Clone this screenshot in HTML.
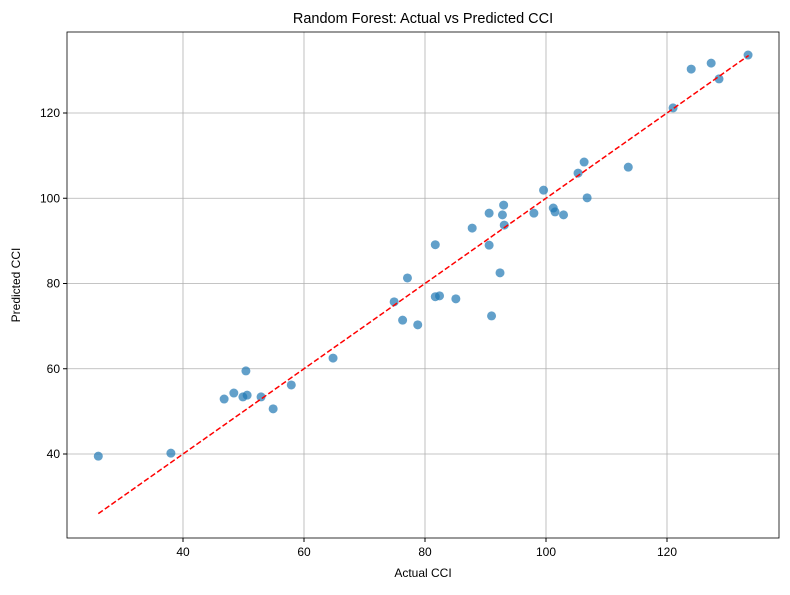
<!DOCTYPE html>
<html><head><meta charset="utf-8"><style>body{margin:0;background:#fff}svg{font-family:"Liberation Sans","DejaVu Sans",sans-serif}</style></head>
<body>
<svg id="c" width="790" height="590"></svg>
<script>
const actual=[26,38,46.8,48.4,50.4,49.9,50.6,52.9,54.9,57.9,64.8,74.9,77.1,76.3,78.8,81.7,81.7,82.4,85.1,87.8,90.6,90.6,91,92.4,92.8,93,93.1,98,99.6,101.2,101.5,102.9,106.8,105.3,106.3,113.6,121,124,127.3,128.6,133.4];
const predicted=[39.5,40.2,52.9,54.3,59.5,53.4,53.8,53.4,50.6,56.2,62.5,75.7,81.3,71.4,70.3,89.1,76.9,77.1,76.4,93.0,96.5,89.0,72.4,82.5,96.1,98.4,93.7,96.5,101.9,97.7,96.8,96.1,100.1,105.9,108.5,107.3,121.2,130.3,131.7,128,133.6];
const xTicks=[40,60,80,100,120];
const yTicks=[40,60,80,100,120];
const lineRange=[26,133.5];
const L=67,R=779,T=32,B=538;
const x=v=>183+(v-40)*6.05, y=v=>454-(v-40)*4.2625;
const s=document.getElementById('c'),NS='http://www.w3.org/2000/svg';
function mk(t,a,p){const e=document.createElementNS(NS,t);for(const k in a)e.setAttribute(k,a[k]);(p||s).appendChild(e);return e;}
xTicks.forEach(v=>{const g=mk('line',{x1:x(v),x2:x(v),y1:T,y2:B,stroke:'#b0b0b0','stroke-width':0.8});

mk('line',{x1:x(v),x2:x(v),y1:B,y2:B+4,stroke:'#000'});
const t=mk('text',{x:x(v),y:B+18,'text-anchor':'middle','font-size':12});t.textContent=v;
});
yTicks.forEach(v=>{const g=mk('line',{x1:L,x2:R,y1:y(v),y2:y(v),stroke:'#b0b0b0','stroke-width':0.8});

mk('line',{x1:L-4,x2:L,y1:y(v),y2:y(v),stroke:'#000'});
const t=mk('text',{x:L-7,y:y(v)+4,'text-anchor':'end','font-size':12});t.textContent=v;
});
actual.forEach((a,i)=>{const c=mk('circle',{cx:x(a),cy:y(predicted[i]),r:4.5,fill:'#1f77b4','fill-opacity':0.7});
});
const ln=mk('line',{x1:x(lineRange[0]),y1:y(lineRange[0]),x2:x(lineRange[1]),y2:y(lineRange[1]),stroke:'#f00','stroke-width':1.5,'stroke-dasharray':'5.5,2.5'});

const fr=mk('rect',{x:L,y:T,width:R-L,height:B-T,fill:'none',stroke:'#000','stroke-width':0.8});

let t=mk('text',{x:(L+R)/2,y:23,'text-anchor':'middle','font-size':14.5});t.textContent='Random Forest: Actual vs Predicted CCI';

t=mk('text',{x:(L+R)/2,y:577,'text-anchor':'middle','font-size':12});t.textContent='Actual CCI';

t=mk('text',{x:20,y:(T+B)/2,'text-anchor':'middle','font-size':12,transform:`rotate(-90 20 ${(T+B)/2})`});t.textContent='Predicted CCI';

</script>
</body></html>
